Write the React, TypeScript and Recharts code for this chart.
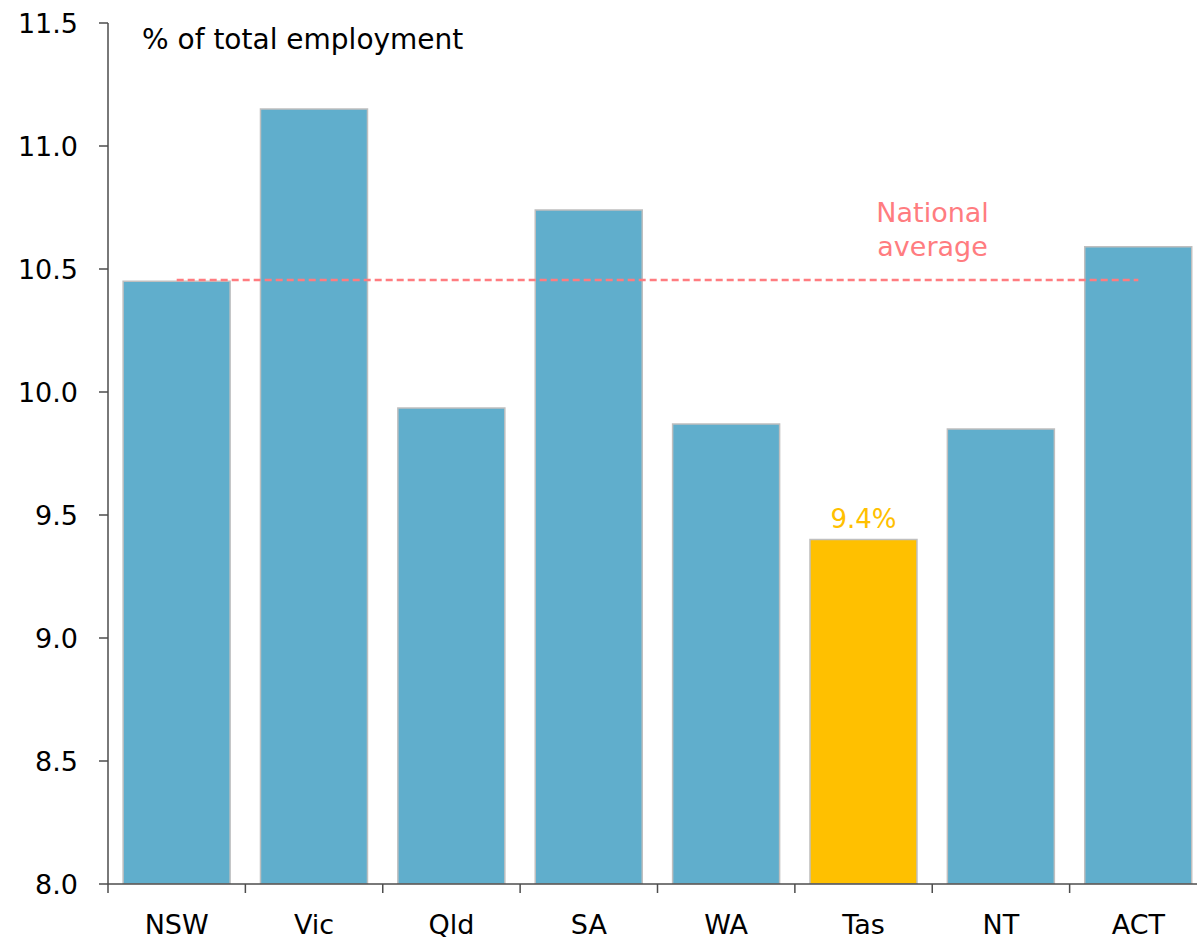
import { XAxis, YAxis, Bar, Cell, Line, ComposedChart, LabelList } from "recharts";

const states = ["NSW", "Vic", "Qld", "SA", "WA", "Tas", "NT", "ACT"];
const shares = [10.45, 11.15, 9.935, 10.74, 9.87, 9.4, 9.85, 10.59];
const nationalAverage = 10.455;
const yTicks = [8.0, 8.5, 9.0, 9.5, 10.0, 10.5, 11.0, 11.5];
const highlight = "Tas";

const FONT = "'DejaVu Sans', sans-serif";
const BLUE = "#60aecc";
const GOLD = "#ffc000";
const PINK = "#ff7c80";
const AXIS = "#4d4d4d";

const data = states.map((s, i) => ({ state: s, value: shares[i], avg: nationalAverage }));

// category label plus tick marks on the band edges
const StateTick = (props: any) => {
  const { x, y, payload, index } = props;
  const half = payload && payload.offset ? payload.offset : 68.6;
  const isLast = index === states.length - 1;
  return (
    <g>
      <line x1={x - half} x2={x - half} y1={y} y2={y + 9} stroke={AXIS} strokeWidth={1.5} />
      {isLast && <line x1={x + half} x2={x + half} y1={y} y2={y + 9} stroke={AXIS} strokeWidth={1.5} />}
      <text x={x} y={y + 50} textAnchor="middle" fill="#000" fontSize={27} fontFamily={FONT}>
        {payload.value}
      </text>
    </g>
  );
};

const TasLabel = (props: any) => {
  const { x, y, width, index } = props;
  if (states[index] !== highlight) return null;
  return (
    <text x={x + width / 2} y={y - 12} textAnchor="middle" fill={GOLD} fontSize={26} fontFamily={FONT}>
      {`${shares[index].toFixed(1)}%`}
    </text>
  );
};

const AvgLabel = (props: any) => {
  const { x, y, index } = props;
  if (index !== 5) return null;
  const cx = x + 69;
  return (
    <text x={cx} y={y} textAnchor="middle" fill={PINK} fontSize={27} fontFamily={FONT}>
      <tspan x={cx} dy={-58}>National</tspan>
      <tspan x={cx} dy={34}>average</tspan>
    </text>
  );
};

export default function App() {
  return (
    <div style={{ position: "absolute", left: 0, top: 0, width: 1197, height: 940, overflow: "hidden", background: "#fff" }}>
      <ComposedChart
        width={1207}
        height={940}
        data={data}
        margin={{ top: 23, right: 0, bottom: 0, left: 0 }}
        barCategoryGap="11%"
      >
        <XAxis
          dataKey="state"
          height={56}
          axisLine={{ stroke: AXIS, strokeWidth: 1.5 }}
          tickLine={false}
          tickSize={0}
          tickMargin={0}
          interval={0}
          tick={<StateTick />}
        />
        <YAxis
          domain={[8, 11.5]}
          ticks={yTicks}
          width={108}
          axisLine={{ stroke: AXIS, strokeWidth: 1.5 }}
          tickLine={{ stroke: AXIS, strokeWidth: 1.5 }}
          tickSize={9}
          tickMargin={21}
          tickFormatter={(v: number) => v.toFixed(1)}
          tick={{ fill: "#000", fontSize: 27, fontFamily: FONT }}
          allowDataOverflow
        />
        <Bar dataKey="value" stroke="#bfbfbf" strokeWidth={1.5} isAnimationActive={false}>
          {data.map((d) => (
            <Cell key={d.state} fill={d.state === highlight ? GOLD : BLUE} />
          ))}
          <LabelList dataKey="value" content={TasLabel} />
        </Bar>
        <Line
          dataKey="avg"
          stroke={PINK}
          strokeWidth={2.5}
          strokeDasharray="7 4"
          dot={false}
          activeDot={false}
          isAnimationActive={false}
          label={AvgLabel}
        />
      </ComposedChart>
      <div
        style={{
          position: "absolute",
          left: 142,
          top: 21,
          fontFamily: FONT,
          fontSize: 28,
          color: "#000",
          lineHeight: "38px",
          whiteSpace: "nowrap",
        }}
      >
        % of total employment
      </div>
    </div>
  );
}
